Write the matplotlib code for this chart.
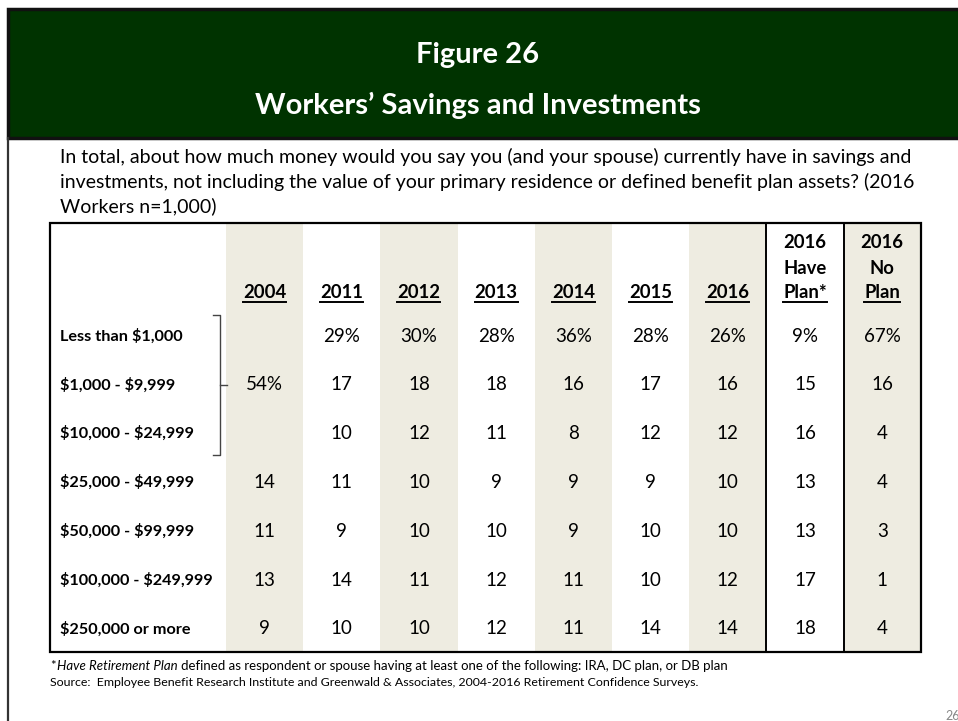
import matplotlib
matplotlib.use("Agg")
import matplotlib.pyplot as plt
from matplotlib.patches import Rectangle

plt.rcParams["text.parse_math"] = False

W, H = 958, 721

# ---- data ----
col_labels = ["2004", "2011", "2012", "2013", "2014", "2015", "2016",
              "2016\nHave\nPlan*", "2016\nNo\nPlan"]
row_labels = ["Less than $1,000", "$1,000 - $9,999", "$10,000 - $24,999",
              "$25,000 - $49,999", "$50,000 - $99,999",
              "$100,000 - $249,999", "$250,000 or more"]
# None = blank cell (2004 combined the first three bands)
values = [
    [None, "29%", "30%", "28%", "36%", "28%", "26%", "9%", "67%"],
    ["54%", "17", "18", "18", "16", "17", "16", "15", "16"],
    [None, "10", "12", "11", "8", "12", "12", "16", "4"],
    ["14", "11", "10", "9", "9", "9", "10", "13", "4"],
    ["11", "9", "10", "10", "9", "10", "10", "13", "3"],
    ["13", "14", "11", "12", "11", "10", "12", "17", "1"],
    ["9", "10", "10", "12", "11", "14", "14", "18", "4"],
]
shaded_cols = [0, 2, 4, 6, 8]

title_1 = "Figure 26"
title_2 = "Workers\u2019 Savings and Investments"
question = ["In total, about how much money would you say you (and your spouse) currently have in savings and",
            "investments, not including the value of your primary residence or defined benefit plan assets? (2016",
            "Workers n=1,000)"]
source = "Source:  Employee Benefit Research Institute and Greenwald & Associates, 2004-2016 Retirement Confidence Surveys."

# ---- layout (pixels) ----
GREEN = "#003300"
SHADE = "#EEECE1"
FONT = "Lato"
tab_l, tab_r, tab_t, tab_b = 50, 921, 223, 652
col_l0, col_w = 226, 77.2
row_y0, row_h = 336, 48.8
header_y = 293

fig = plt.figure(figsize=(W / 100, H / 100), dpi=100)
ax = fig.add_axes([0, 0, 1, 1])
ax.set_xlim(0, W)
ax.set_ylim(H, 0)
ax.axis("off")

# banner
ax.add_patch(Rectangle((8, 9), W, 129, facecolor=GREEN, edgecolor="#111111", lw=2.5, zorder=2))
ax.plot([8, 8], [138, H], color="#333333", lw=1.6, zorder=2)
ax.text(478, 55, title_1, color="white", fontsize=21, fontweight="bold",
        family=FONT, ha="center", va="center", zorder=3)
ax.text(478, 105, title_2, color="white", fontsize=21, fontweight="bold",
        family=FONT, ha="center", va="center", zorder=3)

# question text, one line at a time so spacing matches
for i, line in enumerate(question):
    ax.text(60, 157 + i * 24.5, line, fontsize=14.0, family=FONT, ha="left",
            va="center", color="black")

# column shading
for c in shaded_cols:
    x0 = col_l0 + c * col_w
    ax.add_patch(Rectangle((x0, tab_t), col_w, tab_b - tab_t, facecolor=SHADE,
                           edgecolor="none", zorder=1))

# table frame
ax.add_patch(Rectangle((tab_l, tab_t), tab_r - tab_l, tab_b - tab_t, facecolor="none",
                       edgecolor="black", lw=1.6, zorder=4))
for c in (7, 8):
    x = col_l0 + c * col_w
    ax.plot([x, x], [tab_t, tab_b], color="black", lw=1.4, zorder=4)

fig.canvas.draw()
renderer = fig.canvas.get_renderer()
inv = ax.transData.inverted()

# headers (bold, last line underlined)
for c, lab in enumerate(col_labels):
    xc = col_l0 + (c + 0.5) * col_w
    lines = lab.split("\n")
    for k, line in enumerate(lines):
        y = header_y - (len(lines) - 1 - k) * 25
        t = ax.text(xc, y, line, fontsize=13.3, fontweight="bold", family=FONT,
                    ha="center", va="center", zorder=5)
        if k == len(lines) - 1:
            bb = t.get_window_extent(renderer)
            (x0, _), (x1, _) = inv.transform([(bb.x0, bb.y0), (bb.x1, bb.y1)])
            ax.plot([x0, x1], [y + 9, y + 9], color="black", lw=1.4, zorder=5)

# rows
for r, lab in enumerate(row_labels):
    y = row_y0 + r * row_h
    ax.text(60, y, lab, fontsize=11.7, fontweight="bold", family=FONT,
            ha="left", va="center", zorder=5)
    for c, v in enumerate(values[r]):
        if v is None:
            continue
        xc = col_l0 + (c + 0.5) * col_w
        ax.text(xc, y, v, fontsize=13.5, family=FONT, ha="center", va="center", zorder=5)

# bracket grouping first three bands for 2004
bx, by0, by1 = 220, 315, 455
ym = row_y0 + row_h
ax.plot([213, bx, bx, 213], [by0, by0, by1, by1], color="#444444", lw=1.0, zorder=5)
ax.plot([bx, 227], [ym, ym], color="#444444", lw=1.0, zorder=5)

# footnotes
fs_note = 9.5
ax.text(50, 666, "*", fontsize=fs_note, family=FONT, ha="left", va="center")
t2 = ax.text(57, 666, "Have Retirement Plan", fontsize=fs_note, family=FONT, style="italic",
             ha="left", va="center")
bb = t2.get_window_extent(renderer)
xend = inv.transform((bb.x1, bb.y0))[0]
ax.text(xend + 3, 666, "defined as respondent or spouse having at least one of the following: IRA, DC plan, or DB plan",
        fontsize=fs_note, family=FONT, ha="left", va="center")
ax.text(50, 683, source, fontsize=8.9, family=FONT, ha="left", va="center")
ax.text(945, 716, "26", fontsize=9, family=FONT, color="#888888", ha="left", va="center")

fig.savefig("out.png", dpi=100)
